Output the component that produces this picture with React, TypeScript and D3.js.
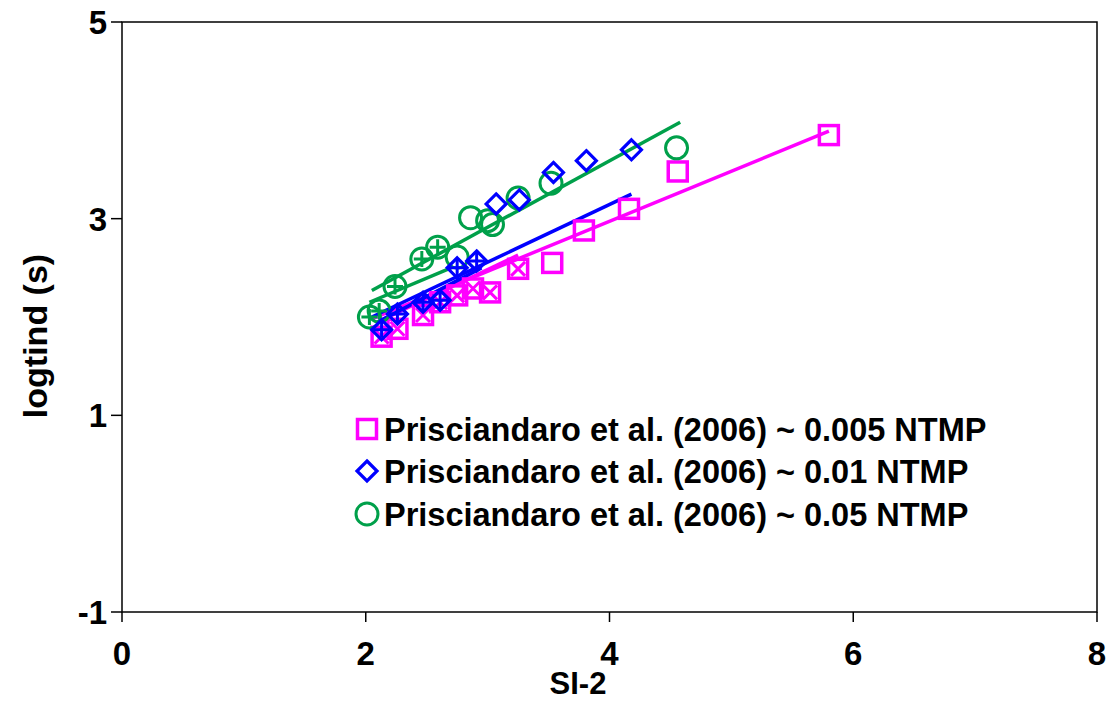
import React from "react";
import * as d3 from "d3";

// Prisciandaro et al. (2006) points
const magentaX = [2.13, 2.26, 2.47, 2.61, 2.75, 2.88, 3.02, 3.25, 3.53, 3.79, 4.16, 4.56, 5.80];
const magentaY = [1.80, 1.88, 2.02, 2.15, 2.22, 2.29, 2.25, 2.49, 2.55, 2.88, 3.10, 3.48, 3.85];
const blueX = [2.13, 2.26, 2.47, 2.61, 2.75, 2.91, 3.07, 3.26, 3.54, 3.81, 4.18];
const blueY = [1.87, 2.03, 2.15, 2.17, 2.50, 2.57, 3.15, 3.19, 3.47, 3.59, 3.70];
const greenX = [2.03, 2.11, 2.24, 2.46, 2.59, 2.75, 2.86, 3.00, 3.04, 3.25, 3.52, 4.55];
const greenY = [2.00, 2.06, 2.31, 2.59, 2.71, 2.61, 3.01, 2.98, 2.94, 3.21, 3.36, 3.72];

// cross markers drawn over the low SI points
const magentaCrossX = [2.13, 2.26, 2.47, 2.61, 2.75, 2.88, 3.02, 3.25];
const magentaCrossY = [1.80, 1.88, 2.02, 2.15, 2.22, 2.29, 2.25, 2.49];
const blueCrossX = [2.13, 2.26, 2.47, 2.61, 2.75, 2.91];
const blueCrossY = [1.87, 2.03, 2.15, 2.17, 2.50, 2.57];
const greenCrossX = [2.03, 2.11, 2.24, 2.46, 2.59];
const greenCrossY = [2.00, 2.06, 2.31, 2.59, 2.71];

// fit lines (end points)
const magentaLongX = [2.05, 5.80];
const magentaLongY = [1.98, 3.89];
const magentaShortX = [2.10, 3.25];
const magentaShortY = [1.95, 2.63];
const blueLongX = [2.05, 4.18];
const blueLongY = [2.00, 3.25];
const blueShortX = [2.10, 2.95];
const blueShortY = [1.95, 2.50];
const greenLongX = [2.05, 4.58];
const greenLongY = [2.27, 3.98];
const greenShortX = [2.03, 2.70];
const greenShortY = [2.15, 2.50];

const xTicks = [0, 2, 4, 6, 8];
const yTicks = [-1, 1, 3, 5];
const legendLabels = [
  "Prisciandaro et al. (2006) ~ 0.005 NTMP",
  "Prisciandaro et al. (2006) ~ 0.01 NTMP",
  "Prisciandaro et al. (2006) ~ 0.05 NTMP",
];

const MAG = "#ff00ff";
const BLUE = "#0000ff";
const GREEN = "#00a04a";
const FONT = "'Liberation Sans', Arial, sans-serif";

const zip = (xs: number[], ys: number[]) => xs.map((x, i) => [x, ys[i]] as [number, number]);

export default function App() {
  const W = 1107, H = 703;
  const x = d3.scaleLinear().domain([0, 8]).range([122, 1097]);
  const y = d3.scaleLinear().domain([-1, 5]).range([612, 22]);
  const line = d3.line<[number, number]>().x(d => x(d[0])).y(d => y(d[1]));

  const square = (cx: number, cy: number, c: string, k: string) => (
    <rect key={k} x={cx - 9.5} y={cy - 9.5} width={19} height={19} fill="none" stroke={c} strokeWidth={3.5} />
  );
  const diamond = (cx: number, cy: number, c: string, k: string) => (
    <path key={k} d={`M${cx},${cy - 10}L${cx + 10},${cy}L${cx},${cy + 10}L${cx - 10},${cy}Z`} fill="none" stroke={c} strokeWidth={3.2} />
  );
  const circle = (cx: number, cy: number, c: string, k: string) => (
    <circle key={k} cx={cx} cy={cy} r={11} fill="none" stroke={c} strokeWidth={3} />
  );
  const plus = (cx: number, cy: number, c: string, k: string) => (
    <path key={k} d={`M${cx - 8},${cy}H${cx + 8}M${cx},${cy - 8}V${cy + 8}`} stroke={c} strokeWidth={3} />
  );
  const cross = (cx: number, cy: number, c: string, k: string) => (
    <path key={k} d={`M${cx - 7},${cy - 7}L${cx + 7},${cy + 7}M${cx + 7},${cy - 7}L${cx - 7},${cy + 7}`} stroke={c} strokeWidth={3} />
  );

  const fits: [number[], number[], string][] = [
    [magentaLongX, magentaLongY, MAG],
    [magentaShortX, magentaShortY, MAG],
    [blueLongX, blueLongY, BLUE],
    [blueShortX, blueShortY, BLUE],
    [greenLongX, greenLongY, GREEN],
    [greenShortX, greenShortY, GREEN],
  ];

  const legendY = [429, 471, 514];
  const legendMarkers = [square, diamond, circle];
  const legendColors = [MAG, BLUE, GREEN];

  return (
    <svg width={W} height={H} style={{ position: "absolute", left: 0, top: 0, background: "#fff" }} fontFamily={FONT}>
      {/* frame */}
      <rect x={x(0)} y={y(5)} width={x(8) - x(0)} height={y(-1) - y(5)} fill="none" stroke="#000" strokeWidth={1.5} />
      {yTicks.map(t => (
        <g key={"yt" + t}>
          <line x1={x(0) - 11} x2={x(0)} y1={y(t)} y2={y(t)} stroke="#000" strokeWidth={1.5} />
          <text x={x(0) - 15} y={y(t)} dy="0.36em" textAnchor="end" fontSize={33} fontWeight="bold">{t}</text>
        </g>
      ))}
      {xTicks.map(t => (
        <g key={"xt" + t}>
          <line x1={x(t)} x2={x(t)} y1={y(-1)} y2={y(-1) + 10} stroke="#000" strokeWidth={1.5} />
          <text x={x(t)} y={665} textAnchor="middle" fontSize={33} fontWeight="bold">{t}</text>
        </g>
      ))}
      <text x={578} y={694} textAnchor="middle" fontSize={31} fontWeight="bold">SI-2</text>
      <text transform={`translate(47,${336}) rotate(-90)`} textAnchor="middle" fontSize={34} fontWeight="bold">logtind (s)</text>

      {/* fit lines */}
      {fits.map(([xs, ys, c], i) => (
        <path key={"f" + i} d={line(zip(xs, ys)) || ""} fill="none" stroke={c} strokeWidth={3.5} />
      ))}

      {/* data markers */}
      {zip(magentaX, magentaY).map((d, i) => square(x(d[0]), y(d[1]), MAG, "m" + i))}
      {zip(magentaCrossX, magentaCrossY).map((d, i) => cross(x(d[0]), y(d[1]), MAG, "mc" + i))}
      {zip(greenX, greenY).map((d, i) => circle(x(d[0]), y(d[1]), GREEN, "g" + i))}
      {zip(greenCrossX, greenCrossY).map((d, i) => plus(x(d[0]), y(d[1]), GREEN, "gc" + i))}
      {zip(blueX, blueY).map((d, i) => diamond(x(d[0]), y(d[1]), BLUE, "b" + i))}
      {zip(blueCrossX, blueCrossY).map((d, i) => plus(x(d[0]), y(d[1]), BLUE, "bc" + i))}

      {/* legend */}
      {legendLabels.map((l, i) => (
        <g key={"lg" + i}>
          {legendMarkers[i](367, legendY[i], legendColors[i], "lm" + i)}
          <text x={384} y={legendY[i]} dy="0.36em" fontSize={32.5} fontWeight="bold">{l}</text>
        </g>
      ))}
    </svg>
  );
}
